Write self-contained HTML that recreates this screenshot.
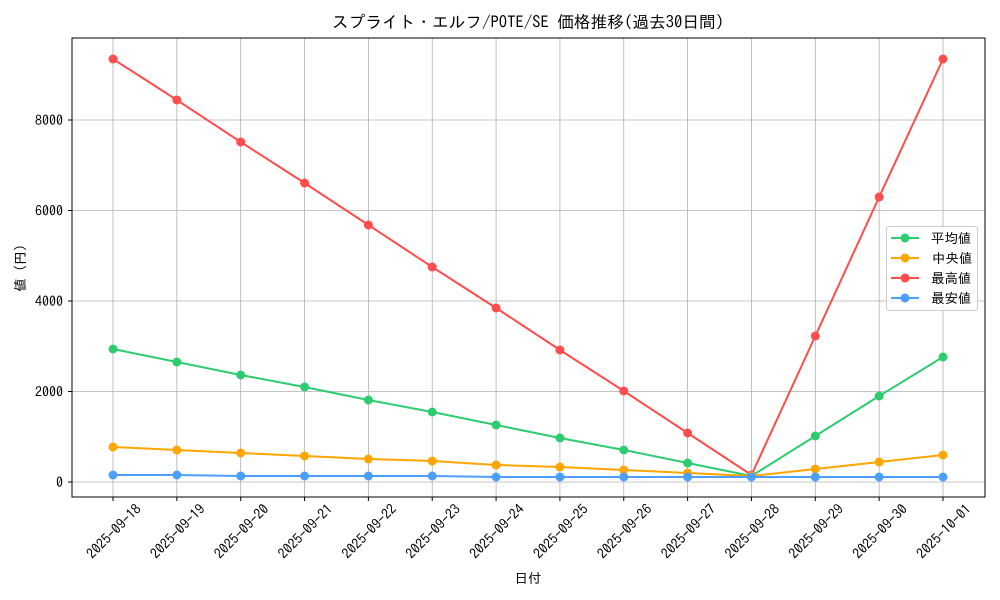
<!DOCTYPE html><html><head><meta charset="utf-8"><style>body{margin:0;background:#fff}svg{display:block}text{font-family:"IPAGothic","Noto Sans CJK JP",sans-serif;fill:#000}</style></head><body>
<svg width="1000" height="600" viewBox="0 0 1000 600">
<rect width="1000" height="600" fill="#fff"/>
<text x="528" y="28" font-size="16.7" text-anchor="middle">スプライト・エルフ/POTE/SE 価格推移(過去30日間)</text>
<g id="grid" stroke="#b0b0b0" stroke-width="0.8"></g>
<rect x="72" y="38" width="913" height="459" fill="none" stroke="#000" stroke-width="1"/>
<g id="ax" font-size="14"></g>
<g id="ser"></g>
<text x="528" y="583" font-size="13.5" text-anchor="middle">日付</text>
<text transform="translate(25,268) rotate(-90)" font-size="13.5" text-anchor="middle">値 (円)</text>
<g>
<rect x="886.5" y="226.5" width="91" height="84" rx="3" fill="#fff" fill-opacity="0.8" stroke="#ccc"/>
<g font-size="13.5">
<line x1="891" y1="238" x2="919" y2="238" stroke="#2ecc71" stroke-width="2"/><circle cx="905" cy="238" r="4.5" fill="#2ecc71"/><text x="931" y="243">平均値</text>
<line x1="891" y1="258" x2="919" y2="258" stroke="#ffa500" stroke-width="2"/><circle cx="905" cy="258" r="4.5" fill="#ffa500"/><text x="932" y="263">中央値</text>
<line x1="891" y1="278" x2="919" y2="278" stroke="#ff4d4d" stroke-width="2"/><circle cx="905" cy="278" r="4.5" fill="#ff4d4d"/><text x="931" y="283">最高値</text>
<line x1="891" y1="298" x2="919" y2="298" stroke="#4d9fff" stroke-width="2"/><circle cx="905" cy="298" r="4.5" fill="#4d9fff"/><text x="931" y="303">最安値</text>
</g></g>
</svg>
<script>
const ns="http://www.w3.org/2000/svg";
function el(p,t,a,txt){const e=document.createElementNS(ns,t);for(const k in a)e.setAttribute(k,a[k]);if(txt)e.textContent=txt;p.appendChild(e);return e;}
const g=document.getElementById('grid'),ax=document.getElementById('ax'),s=document.getElementById('ser');
const X=i=>113+i*63.846;
const dates=["09-18","09-19","09-20","09-21","09-22","09-23","09-24","09-25","09-26","09-27","09-28","09-29","09-30","10-01"];
dates.forEach((d,i)=>{const x=X(i);el(g,'line',{x1:x,x2:x,y1:38,y2:497});el(ax,'line',{x1:x,x2:x,y1:497,y2:501,stroke:'#000'});
el(ax,'text',{'text-anchor':'end',transform:`translate(${x+29},${510}) rotate(-45)`},"2025-"+d);});
[0,2000,4000,6000,8000].forEach(v=>{const y=482-v*0.04525;el(g,'line',{x1:72,x2:985,y1:y,y2:y});el(ax,'line',{x1:68,x2:72,y1:y,y2:y,stroke:'#000'});
el(ax,'text',{x:63,y:y+5,'text-anchor':'end'},String(v));});
const S=[["#4d9fff",[475,475,476,476,476,476,477,477,477,477,477,477,477,477]],
["#ffa500",[447,450,453,456,459,461,465,467,470,473,476,469,462,455]],
["#2ecc71",[349,362,375,387,400,412,425,438,450,463,476,436,396,357]],
["#ff4d4d",[59,100,142,183,225,267,308,350,391,433,475,336,197,59]]];
[S[3],S[2],S[1],S[0]].forEach(([c,ys])=>{el(s,'polyline',{points:ys.map((y,i)=>X(i)+','+y).join(' '),fill:'none',stroke:c,'stroke-width':2});
ys.forEach((y,i)=>el(s,'circle',{cx:X(i),cy:y,r:4.5,fill:c}));});
</script>
</body></html>
